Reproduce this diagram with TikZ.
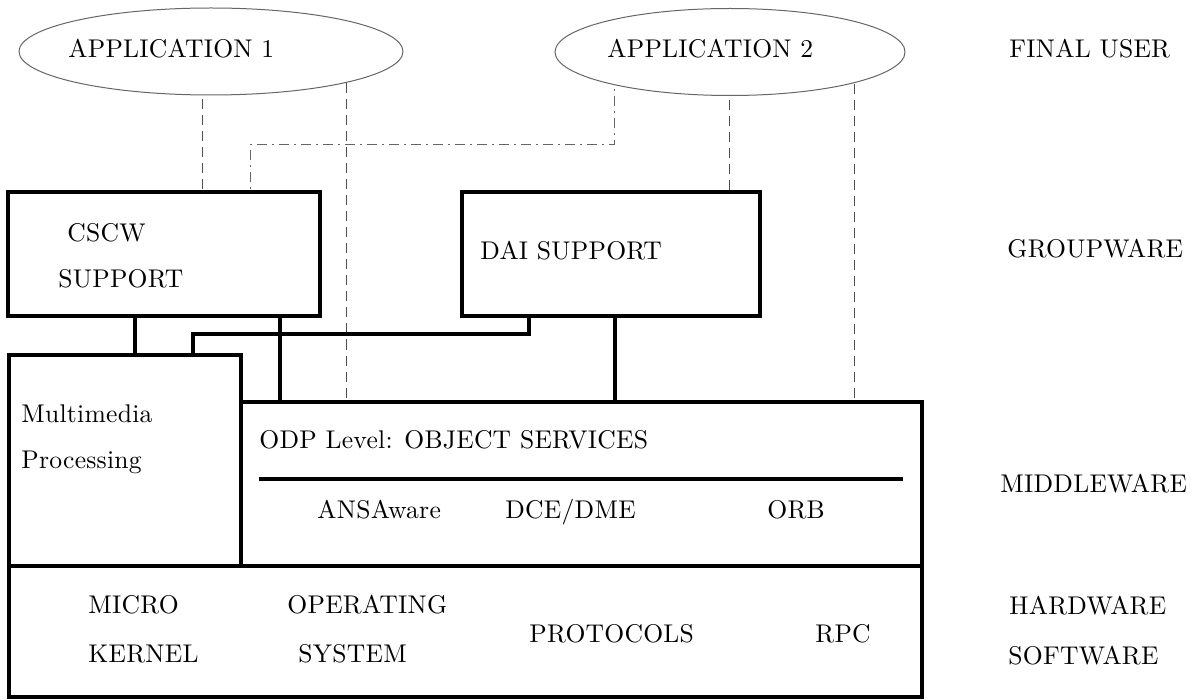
\documentclass[tikz,border=0pt]{standalone}
\usepackage{fontspec}
\setmainfont{lmroman10-regular.otf}[LetterSpace=1]
\usetikzlibrary{positioning,shapes.geometric,backgrounds}

\begin{document}
\begin{tikzpicture}
  [x=0.5pt,y=-0.5pt,
   layer/.style={rectangle,draw,line width=2pt,anchor=north west,
                 inner sep=0pt,outer sep=0pt},
   app/.style={ellipse,draw=black!60,line width=0.5pt,fill=white,
               inner sep=0pt,minimum width=192pt,minimum height=43.5pt},
   lbl/.style={anchor=base west,inner sep=0pt,
               font=\fontsize{12.8}{15}\selectfont},
   link/.style={line width=2pt},
   drop/.style={black!70,line width=0.5pt,dash pattern=on 5pt off 3pt},
   route/.style={black!60,line width=0.5pt,
                 dash pattern=on 5pt off 2.5pt on 1pt off 2.5pt}]
  \useasboundingbox (0,0) rectangle (1194,700);

  % final user
  \node[app]                     (app1) at (211,51.5) {};
  \node[app,minimum width=175pt] (app2) at (730,52)   {};
  \node[lbl] (app1txt) at (68,58)  {APPLICATION 1};
  \node[lbl] (app2txt) at (607,58) {APPLICATION 2};

  % layers
  \node[layer,minimum width=156pt,minimum height=62pt]     (cscw) at (8,192)   {};
  \node[layer,minimum width=149pt,minimum height=62pt]     (dai)  at (462,192) {};
  \node[layer,minimum width=116pt,minimum height=105.5pt]  (mm)   at (9,355)   {};
  \node[layer,minimum width=340.5pt,minimum height=82pt]   (odp)  at (241,402) {};
  \node[layer,minimum width=456.5pt,minimum height=65.5pt] (hw)   at (9,566)   {};

  \node[lbl] (cscw1)   at (67,242)  {CSCW};
  \node[lbl] (cscw2)   at (58,288)  {SUPPORT};
  \node[lbl] (daitxt)  at (480,260) {DAI SUPPORT};
  \node[lbl] (mm1)     at (21,422)  {Multimedia};
  \node[lbl] (mm2)     at (21,468)  {Processing};
  \node[lbl] (odptxt)  at (259,448) {ODP Level: OBJECT SERVICES};
  \node[lbl] (ansa)    at (317,518) {ANSAware};
  \node[lbl] (dce)     at (505,518) {DCE/DME};
  \node[lbl] (orb)     at (767,518) {ORB};
  \node[lbl] (micro)   at (88,613)  {MICRO};
  \node[lbl] (kernel)  at (88,662)  {KERNEL};
  \node[lbl] (opsys1)  at (287,613) {OPERATING};
  \node[lbl] (opsys2)  at (298,662) {SYSTEM};
  \node[lbl] (proto)   at (529,642) {PROTOCOLS};
  \node[lbl] (rpc)     at (815,642) {RPC};

  % level names
  \node[lbl] (user)   at (1009,58)  {FINAL USER};
  \node[lbl] (group)  at (1007,258) {GROUPWARE};
  \node[lbl] (middle) at (1000,492) {MIDDLEWARE};
  \node[lbl] (hard)   at (1009,614) {HARDWARE};
  \node[lbl] (soft)   at (1008,664) {SOFTWARE};

  % solid links
  \draw[link] (cscw.south west) ++(63.5pt,0) coordinate (l1) -- (l1 |- mm.north);
  \draw[link] (cscw.south west) ++(136pt,0) coordinate (l2) -- (l2 |- odp.north);
  \draw[link] (dai.south west) ++(33.5pt,0) -- ++(0,-9pt)
              -| ([xshift=92pt]mm.north west);
  \draw[link] (dai.south west) ++(76.5pt,0) coordinate (l4) -- (l4 |- odp.north);
  \draw[link] ([xshift=9pt,yshift=-38.5pt]odp.north west)
              -- ([xshift=-9.5pt,yshift=-38.5pt]odp.north east);

  % dashed links to the applications
  \coordinate (bend) at (250,145);
  \begin{scope}[on background layer]
    \draw[drop] (app1.center) ++(-4.5pt,0) coordinate (d1) -- (d1 |- cscw.north);
    \draw[drop] (app1.center) ++(67.5pt,0) coordinate (d2) -- (d2 |- odp.north);
    \draw[drop] (app2.center) ++(-0.5pt,0) coordinate (d3) -- (d3 |- dai.north);
    \draw[drop] (app2.center) ++(62pt,0)   coordinate (d4) -- (d4 |- odp.north);
    \draw[route] (app2.center) ++(-58pt,0) |- (bend) -- (bend |- cscw.north);
  \end{scope}
\end{tikzpicture}
\end{document}
